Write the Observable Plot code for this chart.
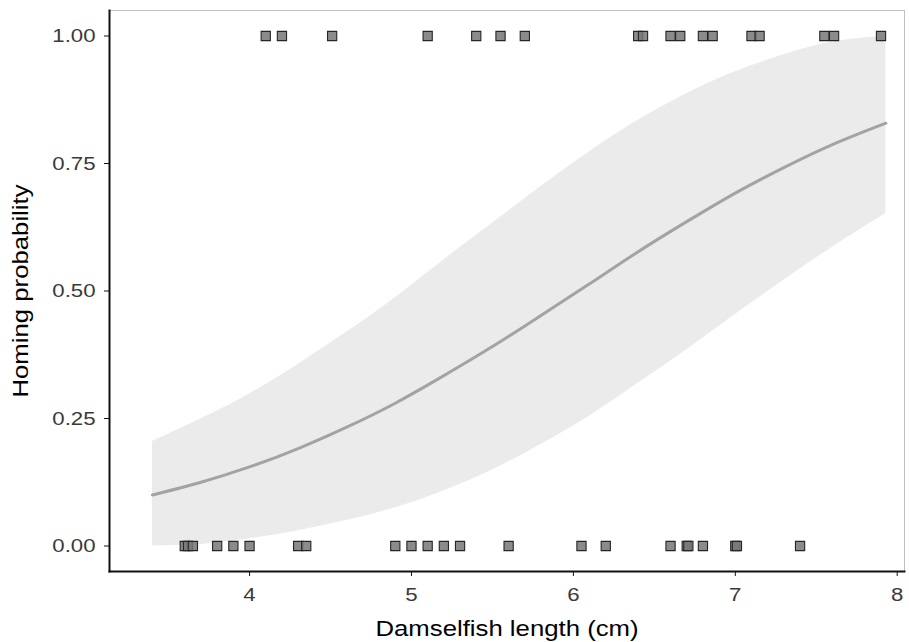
<!DOCTYPE html>
<html>
<head>
<meta charset="utf-8">
<script src="https://cdn.jsdelivr.net/npm/d3@7"></script>
<script src="https://cdn.jsdelivr.net/npm/@observablehq/plot@0.6"></script>
<style>
  html, body { margin: 0; padding: 0; background: #fff; }
  #chart { width: 909px; height: 642px; }
  svg { font-family: "Liberation Sans", Arial, sans-serif; }
</style>
</head>
<body>
<div id="chart"></div>
<script>
// Observed fish: length (cm) and homing outcome (1 = homed, 0 = not)
const homedLengths = [4.10, 4.20, 4.51, 5.10, 5.40, 5.55, 5.70, 6.40, 6.43, 6.60, 6.66, 6.80, 6.86, 7.10, 7.15, 7.55, 7.61, 7.90];
const notHomedLengths = [3.60, 3.62, 3.65, 3.80, 3.90, 4.00, 4.30, 4.35, 4.90, 5.00, 5.10, 5.20, 5.30, 5.60, 6.05, 6.20, 6.60, 6.70, 6.71, 6.80, 7.00, 7.01, 7.40];

// Fitted curve and confidence band
const curveX = [3.40, 3.70, 4.00, 4.30, 4.60, 4.90, 5.20, 5.50, 5.80, 6.10, 6.40, 6.70, 7.00, 7.30, 7.60, 7.93];
const fitY   = [0.100, 0.125, 0.155, 0.191, 0.233, 0.280, 0.334, 0.391, 0.452, 0.514, 0.577, 0.636, 0.692, 0.742, 0.787, 0.829];
const lowerY = [0.000, 0.003, 0.014, 0.030, 0.050, 0.075, 0.108, 0.149, 0.199, 0.255, 0.319, 0.385, 0.454, 0.521, 0.586, 0.652];
const upperY = [0.205, 0.249, 0.298, 0.356, 0.419, 0.487, 0.561, 0.633, 0.705, 0.773, 0.835, 0.887, 0.930, 0.963, 0.988, 1.000];

const xTicks = [4, 5, 6, 7, 8];
const yTicks = [0, 0.25, 0.5, 0.75, 1];

const points = [
  ...homedLengths.map(x => ({x, y: 1})),
  ...notHomedLengths.map(x => ({x, y: 0}))
];
const band = curveX.map((x, i) => ({x, fit: fitY[i], lo: lowerY[i], hi: upperY[i]}));

const chart = Plot.plot({
  width: 909,
  height: 642,
  marginLeft: 109,
  marginRight: 5,
  marginTop: 10,
  marginBottom: 71,
  style: {fontFamily: "'Liberation Sans', Arial, sans-serif", background: "#fff"},
  x: {domain: [3.135, 8.045]},
  y: {domain: [-0.05, 1.05]},
  marks: [
    Plot.frame({stroke: "#b0b0b0", strokeWidth: 0.8}),
    Plot.areaY(band, {x: "x", y1: "lo", y2: "hi", fill: "#ebebeb", curve: "natural"}),
    Plot.line(band, {x: "x", y: "fit", stroke: "#a3a3a3", strokeWidth: 3, curve: "natural"}),
    Plot.dot(points, {x: "x", y: "y", symbol: "square", r: 5.2, fill: "#777777", fillOpacity: 0.85, stroke: "#262626", strokeWidth: 1.1}),
    Plot.frame({anchor: "left", stroke: "#111", strokeWidth: 2}),
    Plot.frame({anchor: "bottom", stroke: "#111", strokeWidth: 2}),
    Plot.axisX({
      ticks: xTicks, tickFormat: d3.format("d"), tickSize: 5, tickPadding: 11,
      fontSize: 19, color: "#3a3a3a", stroke: "#111",
      label: "Damselfish length (cm)", labelAnchor: "center", labelArrow: "none", labelOffset: 64
    }),
    Plot.axisY({
      ticks: yTicks, tickFormat: d3.format(".2f"), tickSize: 5, tickPadding: 9,
      fontSize: 19, color: "#3a3a3a", stroke: "#111",
      label: "Homing probability", labelAnchor: "center", labelArrow: "none", labelOffset: 97
    })
  ]
});

// axis titles: larger, black
chart.querySelectorAll("[aria-label='x-axis label'], [aria-label='y-axis label']").forEach(g => {
  g.setAttribute("font-size", "22");
  g.setAttribute("fill", "#000");
  g.querySelectorAll("text").forEach(t => { t.setAttribute("font-size", "22"); t.setAttribute("fill", "#000"); });
});
// the reference lettering is slightly wide: stretch text horizontally around its anchor
chart.querySelectorAll("[aria-label$='tick label'] text, [aria-label$='axis label'] text").forEach(t => {
  const tr = t.getAttribute("transform") || "";
  t.setAttribute("transform", (tr + " scale(1.17,1)").trim());
});

document.getElementById("chart").appendChild(chart);
</script>
</body>
</html>
